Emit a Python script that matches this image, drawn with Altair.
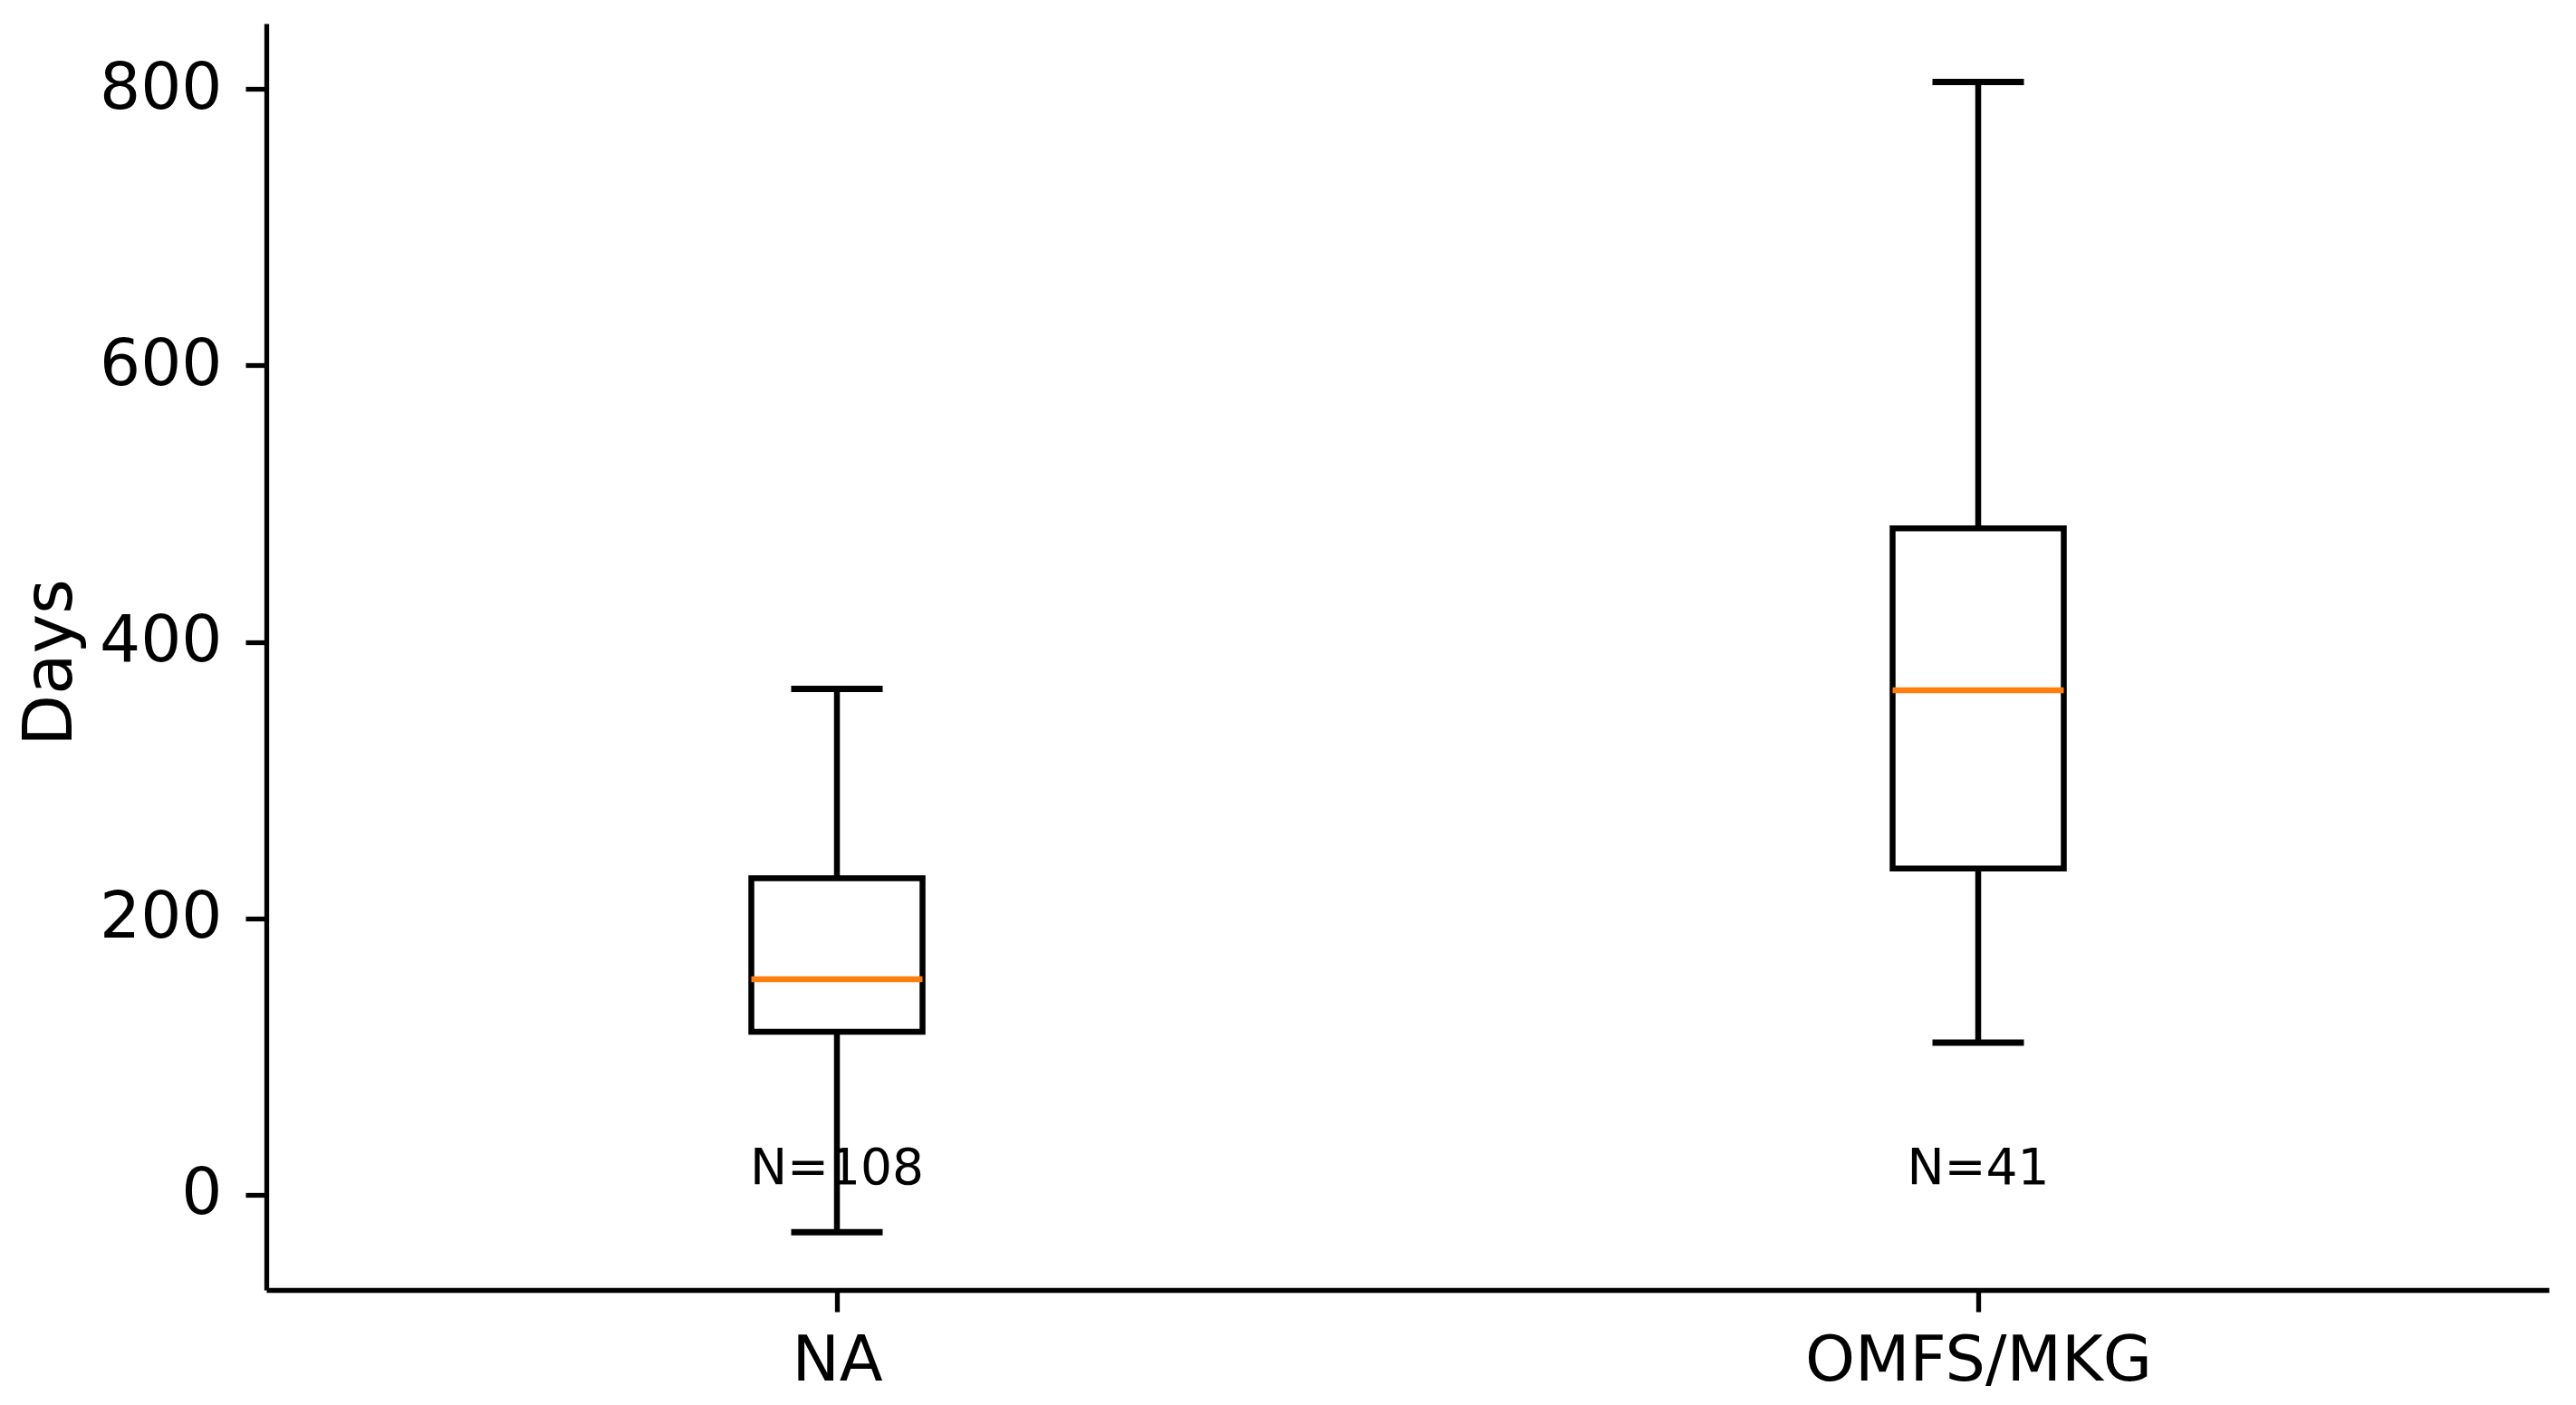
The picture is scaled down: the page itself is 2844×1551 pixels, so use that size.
import altair as alt
import pandas as pd

groups = ["NA", "OMFS/MKG"]
whisker_low = [-27, 110]
q1 = [118, 236]
median = [156, 365]
q3 = [229, 482]
whisker_high = [366, 805]
n_labels = ["N=108", "N=41"]
label_y = [0, 0]

df = pd.DataFrame({
    "group": groups,
    "low": whisker_low,
    "q1": q1,
    "median": median,
    "q3": q3,
    "high": whisker_high,
    "nlabel": n_labels,
    "ly": label_y,
})

FONT = "DejaVu Sans"
xscale = alt.Scale(type="point", padding=0.5, domain=groups)
yscale = alt.Scale(domain=[-68.8, 847.2], nice=False, zero=False)

xaxis = alt.Axis(title=None, labelAngle=0, labelFontSize=70, labelPadding=20,
                 labelLimit=0, tickSize=24, tickWidth=5.3, domainWidth=5.3,
                 domainColor="black", tickColor="black", labelColor="black",
                 labelFont=FONT, grid=False)
yaxis = alt.Axis(title="Days", values=[0, 200, 400, 600, 800], labelFontSize=71,
                 labelPadding=26, tickSize=23, tickWidth=5.3, domainWidth=5.3,
                 domainColor="black", tickColor="black", labelColor="black",
                 labelFont=FONT, grid=False, titleFont=FONT, titleFontSize=74,
                 titleFontWeight="normal", titleColor="black", titleX=-216, titleY=705,
                 titleAngle=270, titleAlign="center", titleBaseline="alphabetic")

base = alt.Chart(df)
x = alt.X("group:N", scale=xscale, axis=xaxis, sort=groups)

whisker = base.mark_rule(color="black", strokeWidth=6.5, opacity=1).encode(
    x=x, y=alt.Y("low:Q", scale=yscale, axis=yaxis), y2="high:Q")
box = base.mark_bar(fill="white", stroke="black", strokeWidth=6.5, size=189,
                    opacity=1, fillOpacity=1).encode(
    x=x, y=alt.Y("q1:Q", scale=yscale, axis=yaxis), y2="q3:Q")
med = base.mark_tick(color="#ff7f0e", size=189, thickness=6.5, orient="horizontal",
                     opacity=1).encode(
    x=x, y=alt.Y("median:Q", scale=yscale, axis=yaxis))
cap_low = base.mark_tick(color="black", size=101, thickness=7, orient="horizontal",
                         opacity=1).encode(
    x=x, y=alt.Y("low:Q", scale=yscale, axis=yaxis))
cap_high = base.mark_tick(color="black", size=101, thickness=7, orient="horizontal",
                          opacity=1).encode(
    x=x, y=alt.Y("high:Q", scale=yscale, axis=yaxis))
text = base.mark_text(font=FONT, fontSize=55, color="black", align="center",
                      baseline="bottom").encode(
    x=x, y=alt.Y("ly:Q", scale=yscale, axis=yaxis), text="nlabel:N")

chart = alt.layer(whisker, box, med, cap_low, cap_high, text).properties(
    width=2520, height=1398,
    autosize=alt.AutoSizeParams(type="none"),
    padding={"left": 286, "top": 18, "right": 10, "bottom": 118},
    background="white",
).configure_view(stroke=None)

chart.save("out.html", embed_options={"renderer": "svg", "actions": False})
